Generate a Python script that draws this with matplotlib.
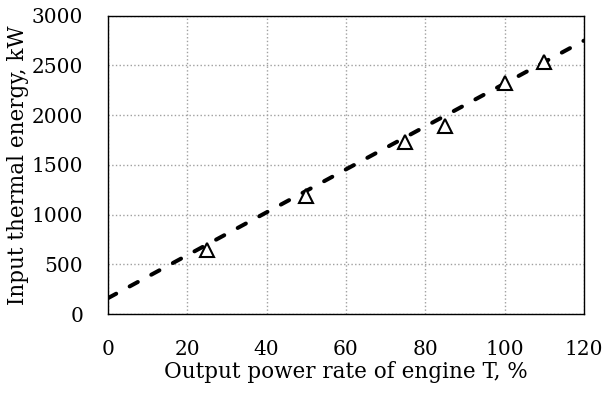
import matplotlib
matplotlib.use('Agg')
import matplotlib.pyplot as plt

# measured points
power_rate = [25, 50, 75, 85, 100, 110]
thermal_energy = [645, 1185, 1730, 1890, 2325, 2530]

# dashed trend line
trend_x = [0, 120]
trend_y = [160, 2750]

plt.rcParams['font.family'] = ['DejaVu Serif']
plt.rcParams['font.size'] = 14.5

fig = plt.figure(figsize=(6.07, 3.94), dpi=100)
ax = fig.add_axes([0.178, 0.203, 0.784, 0.757])

ax.plot(trend_x, trend_y, color='black', lw=2.9, linestyle=(0, (2.3, 3.8)),
        dash_capstyle='round', zorder=3)
ax.plot(power_rate, thermal_energy, linestyle='none', marker='^', ms=10,
        mfc='white', mec='black', mew=1.5, zorder=4)

ax.set_xlim(0, 120)
ax.set_ylim(0, 3000)
ax.set_xticks(range(0, 121, 20))
ax.set_yticks(range(0, 3001, 500))
ax.tick_params(axis='x', length=0, pad=19)
ax.tick_params(axis='y', length=0, pad=18)
ax.grid(True, color='#a0a0a0', linestyle=':', lw=1)
for s in ax.spines.values():
    s.set_linewidth(1)

ax.set_xlabel('Output power rate of engine T, %', fontsize=15.5, labelpad=1)
ax.set_ylabel('Input thermal energy, kW', fontsize=15.5, labelpad=2)

fig.savefig('out.png', dpi=100)
